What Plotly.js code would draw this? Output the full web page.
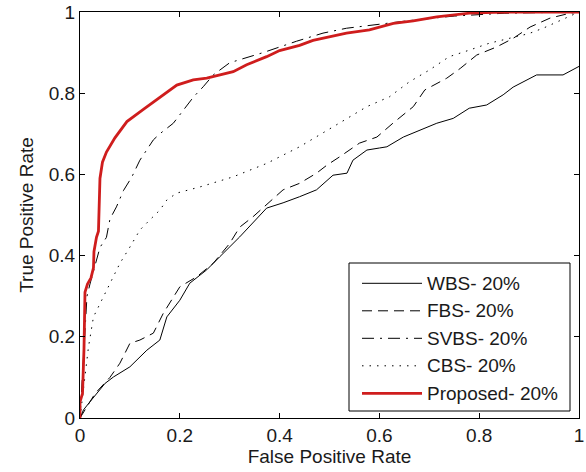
<!DOCTYPE html>
<html>
<head>
<meta charset="utf-8">
<script src="https://cdn.plot.ly/plotly-3.0.1.min.js"></script>
<style>
html,body{margin:0;padding:0;background:#fff;}
#chart{width:586px;height:472px;}
</style>
</head>
<body>
<div id="chart"></div>
<script>
// Series names
const seriesNames = ["WBS- 20%", "FBS- 20%", "SVBS- 20%", "CBS- 20%", "Proposed- 20%"];
const xTicks = [0, 0.2, 0.4, 0.6, 0.8, 1];
const xTickLabels = ["0", "0.2", "0.4", "0.6", "0.8", "1"];

// WBS
const wbsFpr = [0, 0.003, 0.007, 0.02, 0.033, 0.05, 0.067, 0.10, 0.134, 0.16, 0.174, 0.20, 0.22, 0.254, 0.28, 0.30, 0.32, 0.374, 0.407, 0.44, 0.474, 0.507, 0.535, 0.547, 0.575, 0.60, 0.615, 0.648, 0.68, 0.715, 0.748, 0.78, 0.815, 0.848, 0.868, 0.902, 0.915, 0.968, 1.0];
const wbsTpr = [0, 0.01, 0.02, 0.04, 0.06, 0.085, 0.101, 0.126, 0.167, 0.192, 0.249, 0.29, 0.332, 0.365, 0.397, 0.421, 0.446, 0.517, 0.53, 0.545, 0.562, 0.598, 0.603, 0.635, 0.66, 0.665, 0.668, 0.692, 0.709, 0.726, 0.738, 0.763, 0.771, 0.796, 0.815, 0.837, 0.845, 0.845, 0.866];

// FBS
const fbsFpr = [0, 0.01, 0.03, 0.06, 0.08, 0.10, 0.12, 0.147, 0.167, 0.20, 0.234, 0.267, 0.30, 0.32, 0.347, 0.407, 0.44, 0.474, 0.495, 0.52, 0.56, 0.595, 0.627, 0.668, 0.691, 0.735, 0.762, 0.795, 0.835, 0.868, 0.902, 0.942, 0.982, 1.0];
const fbsTpr = [0, 0.02, 0.06, 0.10, 0.135, 0.184, 0.192, 0.209, 0.258, 0.323, 0.348, 0.381, 0.43, 0.47, 0.496, 0.562, 0.578, 0.603, 0.623, 0.643, 0.677, 0.692, 0.726, 0.767, 0.808, 0.837, 0.861, 0.894, 0.914, 0.935, 0.963, 0.985, 0.997, 1.0];

// SVBS
const svbsFpr = [0, 0.005, 0.01, 0.014, 0.02, 0.033, 0.04, 0.053, 0.06, 0.073, 0.087, 0.104, 0.12, 0.147, 0.16, 0.187, 0.207, 0.227, 0.247, 0.267, 0.30, 0.367, 0.434, 0.487, 0.534, 0.60, 0.668, 0.75, 0.85, 1.0];
const svbsTpr = [0, 0.10, 0.22, 0.30, 0.33, 0.39, 0.42, 0.445, 0.49, 0.52, 0.56, 0.594, 0.635, 0.685, 0.70, 0.726, 0.758, 0.79, 0.816, 0.845, 0.875, 0.90, 0.928, 0.948, 0.96, 0.97, 0.98, 0.99, 0.997, 1.0];

// CBS
const cbsFpr = [0, 0.005, 0.012, 0.017, 0.027, 0.043, 0.06, 0.08, 0.10, 0.12, 0.14, 0.16, 0.174, 0.194, 0.24, 0.307, 0.374, 0.44, 0.507, 0.575, 0.62, 0.66, 0.70, 0.74, 0.78, 0.82, 0.86, 0.90, 0.928, 0.98, 1.0];
const cbsTpr = [0, 0.05, 0.12, 0.175, 0.249, 0.29, 0.332, 0.381, 0.421, 0.463, 0.488, 0.512, 0.537, 0.554, 0.569, 0.594, 0.627, 0.668, 0.717, 0.767, 0.791, 0.828, 0.857, 0.89, 0.906, 0.923, 0.935, 0.947, 0.96, 0.99, 1.0];

// Proposed
const propFpr = [0, 0, 0.005, 0.008, 0.01, 0.015, 0.022, 0.027, 0.028, 0.033, 0.037, 0.04, 0.045, 0.053, 0.07, 0.094, 0.127, 0.16, 0.194, 0.227, 0.254, 0.307, 0.334, 0.374, 0.40, 0.44, 0.467, 0.534, 0.58, 0.628, 0.668, 0.715, 0.78, 0.83, 0.886, 1.0];
const propTpr = [0, 0.04, 0.06, 0.17, 0.31, 0.33, 0.345, 0.37, 0.41, 0.445, 0.46, 0.59, 0.63, 0.655, 0.69, 0.73, 0.76, 0.79, 0.82, 0.833, 0.837, 0.853, 0.87, 0.89, 0.905, 0.918, 0.93, 0.948, 0.956, 0.972, 0.978, 0.988, 0.997, 0.999, 1.0, 1.0];

const fpr = [wbsFpr, fbsFpr, svbsFpr, cbsFpr, propFpr];
const tpr = [wbsTpr, fbsTpr, svbsTpr, cbsTpr, propTpr];
const styles = [
  {color: "#000000", width: 1, dash: "solid"},
  {color: "#000000", width: 1, dash: "10px,6px"},
  {color: "#000000", width: 1, dash: "12px,6px,2px,6px"},
  {color: "#000000", width: 1, dash: "1.5px,6px"},
  {color: "#cf1d1d", width: 2.8, dash: "solid"}
];

const traces = seriesNames.map((name, i) => ({
  type: "scatter",
  mode: "lines",
  name: name,
  x: fpr[i],
  y: tpr[i],
  line: styles[i],
  showlegend: false
}));

const fontFam = "Liberation Sans, Arial, sans-serif";
const txtColor = "#1a1a1a";

// plot-area geometry (px) for the hand-built legend box
const M = {l: 80, r: 7, t: 12, b: 54};
const W = 586, H = 472;
const pw = W - M.l - M.r, ph = H - M.t - M.b;
const px = v => (v - M.l) / pw;
const py = v => (H - M.b - v) / ph;

const shapes = [{
  type: "rect", xref: "paper", yref: "paper",
  x0: px(349), x1: px(570), y0: py(411), y1: py(263),
  line: {color: "#000", width: 1}, fillcolor: "#fff", layer: "above"
}];
const annotations = [];
seriesNames.forEach((name, i) => {
  const rowY = 283.3 + i * 27.5;
  shapes.push({
    type: "line", xref: "paper", yref: "paper",
    x0: px(362), x1: px(422), y0: py(rowY), y1: py(rowY),
    line: {color: styles[i].color, width: styles[i].width, dash: styles[i].dash},
    layer: "above"
  });
  annotations.push({
    xref: "paper", yref: "paper", x: px(425), y: py(rowY),
    xanchor: "left", yanchor: "middle", showarrow: false,
    text: name, font: {family: fontFam, size: 19, color: txtColor}
  });
});

const axisCommon = {
  range: [0, 1],
  tickvals: xTicks,
  ticktext: xTickLabels,
  showline: true,
  linecolor: "#000",
  linewidth: 1,
  mirror: "ticks",
  ticks: "inside",
  ticklen: 5,
  tickcolor: "#000",
  showgrid: false,
  zeroline: false,
  tickfont: {family: fontFam, size: 19, color: txtColor},
  fixedrange: true
};

const layout = {
  width: W,
  height: H,
  margin: M,
  paper_bgcolor: "#fff",
  plot_bgcolor: "#fff",
  font: {family: fontFam, color: txtColor},
  xaxis: Object.assign({}, axisCommon, {
    title: {text: "False Positive Rate", font: {family: fontFam, size: 19, color: txtColor}, standoff: 2}
  }),
  yaxis: Object.assign({}, axisCommon, {
    title: {text: "True Positive Rate", font: {family: fontFam, size: 19, color: txtColor}, standoff: 10}
  }),
  showlegend: false,
  shapes: shapes,
  annotations: annotations
};

Plotly.newPlot("chart", traces, layout, {staticPlot: true, displayModeBar: false});
</script>
</body>
</html>
